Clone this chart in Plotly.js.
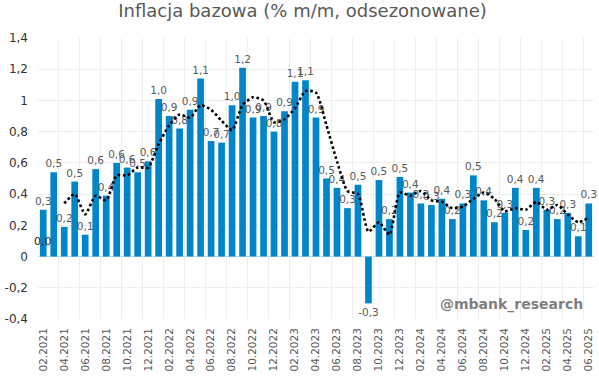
<!DOCTYPE html>
<html><head><meta charset="utf-8">
<script src="https://cdn.plot.ly/plotly-3.0.1.min.js"></script>
<style>body{margin:0;background:#fff}</style>
</head><body><div id="chart" style="width:599px;height:382px"></div>
<script>
const months = ["02.2021","03.2021","04.2021","05.2021","06.2021","07.2021","08.2021","09.2021","10.2021","11.2021","12.2021",
"01.2022","02.2022","03.2022","04.2022","05.2022","06.2022","07.2022","08.2022","09.2022","10.2022","11.2022","12.2022",
"01.2023","02.2023","03.2023","04.2023","05.2023","06.2023","07.2023","08.2023","09.2023","10.2023","11.2023","12.2023",
"01.2024","02.2024","03.2024","04.2024","05.2024","06.2024","07.2024","08.2024","09.2024","10.2024","11.2024","12.2024",
"01.2025","02.2025","03.2025","04.2025","05.2025","06.2025"];
const coreMoM = [0.30,0.54,0.19,0.48,0.14,0.56,0.39,0.60,0.57,0.54,0.61,
1.01,0.90,0.82,0.94,1.14,0.74,0.73,0.97,1.21,0.89,0.90,0.80,
0.93,1.12,1.13,0.89,0.50,0.44,0.31,0.46,-0.30,0.49,0.24,0.51,
0.41,0.34,0.33,0.37,0.24,0.34,0.52,0.36,0.22,0.28,0.44,0.17,
0.44,0.30,0.24,0.28,0.13,0.34];
const avg3m = [null,null,0.34,0.40,0.27,0.39,0.36,0.52,0.52,0.57,0.57,
0.72,0.84,0.91,0.89,0.97,0.94,0.87,0.81,0.97,1.02,1.00,0.86,
0.88,0.95,1.06,1.05,0.84,0.61,0.42,0.40,0.16,0.22,0.14,0.41,
0.39,0.42,0.36,0.35,0.31,0.32,0.37,0.41,0.37,0.29,0.31,0.30,
0.35,0.30,0.33,0.27,0.22,0.25];
const avgStartLabel = "0,0";
const avgStartValue = 0;
const yTicks = [-0.4,-0.2,0,0.2,0.4,0.6,0.8,1,1.2,1.4];
const yTickText = ["-0,4","-0,2","0","0,2","0,4","0,6","0,8","1","1,2","1,4"];

const idx = months.map((m,i)=>i);
const evenIdx = idx.filter(i=>i%2===0);
const boundaries = [];
for (let i=0;i<=months.length;i+=2) boundaries.push(i-0.5);

const data = [
 {type:'bar', x:idx, y:coreMoM, width:0.64,
  marker:{color:'#0086C8'},
  texttemplate:'%{y:.1f}', textposition:'outside', cliponaxis:false, constraintext:'none',
  textfont:{family:'DejaVu Sans', size:10.5, color:'#595959'},
  hoverinfo:'skip'},
 {type:'scatter', mode:'lines', x:idx, y:avg3m,
  line:{color:'#000000', width:2.6, dash:'2.6px,2.6px', shape:'spline', smoothing:0.6},
  hoverinfo:'skip'}
];

const layout = {
 width:599, height:382,
 margin:{l:38, r:5, t:38, b:63},
 paper_bgcolor:'#fff', plot_bgcolor:'#fff',
 showlegend:false,
 separators:', ',
 title:{text:'Inflacja bazowa (% m/m, odsezonowane)', x:0.505, xanchor:'center', y:0.972, yanchor:'middle',
   font:{family:'DejaVu Sans', size:18, color:'#595959'}},
 xaxis:{range:[-0.5, months.length-0.5], tickmode:'array', tickvals:evenIdx, ticktext:evenIdx.map(i=>months[i]),
   tickangle:-90, showgrid:false, zeroline:false, showline:false, ticks:'',
   ticklabelstandoff:6,
   tickfont:{family:'DejaVu Sans', size:10.5, color:'#595959'},
   minor:{tickmode:'array', tickvals:boundaries, showgrid:true, gridcolor:'#eeeeee', gridwidth:1, ticks:''}},
 yaxis:{range:[-0.4,1.4], tickmode:'array', tickvals:yTicks, ticktext:yTickText,
   showgrid:true, gridcolor:'#eeeeee', gridwidth:1, zeroline:true, zerolinecolor:'#bcdcef', zerolinewidth:1.5,
   showline:false, ticks:'', ticklabelstandoff:9,
   tickfont:{family:'DejaVu Sans', size:12, color:'#333333'}},
 annotations:[
  {text:avgStartLabel, xref:'x', yref:'y', x:idx[0], y:avgStartValue, yanchor:'bottom', yshift:7,
   showarrow:false, font:{family:'DejaVu Sans', size:11, color:'#262626'}},
  {text:'<b>@mbank_research</b>', xref:'paper', yref:'paper', x:0.983, y:0.053,
   xanchor:'right', yanchor:'middle', showarrow:false,
   font:{family:'DejaVu Sans', size:14, color:'#7f7f7f'}}]
};

Plotly.newPlot('chart', data, layout, {staticPlot:true, displayModeBar:false});
</script></body></html>
